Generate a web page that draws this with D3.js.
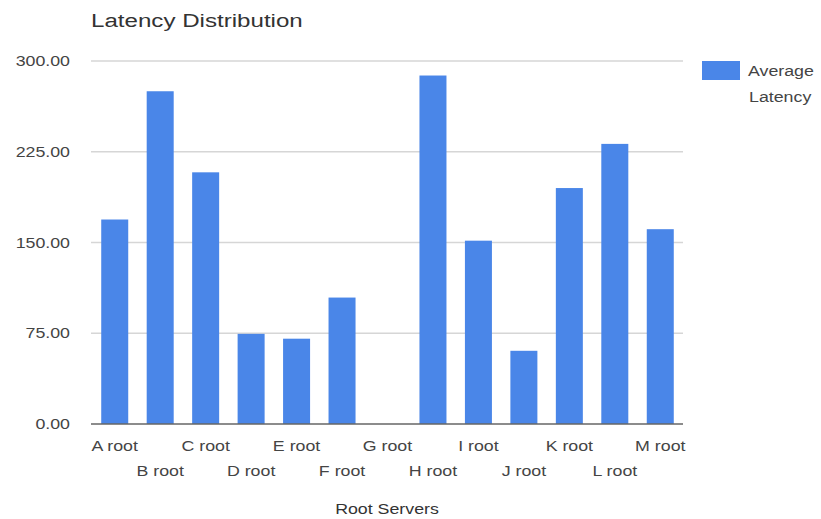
<!DOCTYPE html>
<html>
<head>
<meta charset="utf-8">
<script src="https://cdn.jsdelivr.net/npm/d3@7"></script>
<style>
  body { margin: 0; background: #fff; }
  text { font-family: "Liberation Sans", Arial, sans-serif; }
</style>
</head>
<body>
<svg id="chart" width="821" height="519"></svg>
<script>
// data
let servers = ["A root", "B root", "C root", "D root", "E root", "F root", "G root",
               "H root", "I root", "J root", "K root", "L root", "M root"];
let latency = [169, 275, 208, 74.5, 70.5, 104.5, 0, 288, 151.5, 60.5, 195, 231.5, 161];
let yTicks = [0, 75, 150, 225, 300];

let data = servers.map((s, i) => ({ name: s, value: latency[i] }));

let svg = d3.select("#chart");
let stretch = 1.27; // the text in the picture is drawn wide

let xScale = d3.scaleBand()
    .domain(servers)
    .range([92, 683])
    .paddingInner(0.406)
    .paddingOuter(0.203);
let yScale = d3.scaleLinear()
    .domain([0, 300])
    .range([424, 61]);

function label(g, x, y, txt, size, anchor, color) {
    return g.append("text")
        .attr("transform", "translate(" + x + "," + y + ") scale(" + stretch + ",1)")
        .attr("text-anchor", anchor)
        .style("font-size", size + "px")
        .style("fill", color)
        .text(txt);
}

// title
label(svg, 91, 27, "Latency Distribution", 19, "start", "#333");

// grid lines + y labels
let grid = svg.append("g").attr("class", "grid");
yTicks.forEach(t => {
    if (t > 0) {
        grid.append("line")
            .attr("x1", 91).attr("x2", 683)
            .attr("y1", yScale(t)).attr("y2", yScale(t))
            .style("stroke", "#d6d6d6")
            .style("stroke-width", "1.5px");
    }
    label(grid, 70, yScale(t) + 5, d3.format(".2f")(t), 14, "end", "#444");
});

// bars
svg.append("g")
    .selectAll("rect")
    .data(data)
    .join("rect")
    .attr("x", d => xScale(d.name))
    .attr("y", d => yScale(d.value))
    .attr("width", xScale.bandwidth())
    .attr("height", d => yScale(0) - yScale(d.value))
    .style("fill", "#4a86e8");

// baseline
svg.append("line")
    .attr("x1", 91).attr("x2", 683)
    .attr("y1", yScale(0)).attr("y2", yScale(0))
    .style("stroke", "#666")
    .style("stroke-width", "1.5px");

// x labels, staggered on two rows
let xl = svg.append("g");
servers.forEach((s, i) => {
    let cx = xScale(s) + xScale.bandwidth() / 2;
    label(xl, cx, i % 2 === 0 ? 451 : 476, s, 14, "middle", "#444");
});

// axis title
label(svg, 387, 514, "Root Servers", 14, "middle", "#333");

// legend
let lg = svg.append("g");
lg.append("rect")
    .attr("x", 702).attr("y", 61)
    .attr("width", 38).attr("height", 19)
    .style("fill", "#4a86e8");
label(lg, 748, 76, "Average", 14, "start", "#444");
label(lg, 749, 102, "Latency", 14, "start", "#444");
</script>
</body>
</html>
